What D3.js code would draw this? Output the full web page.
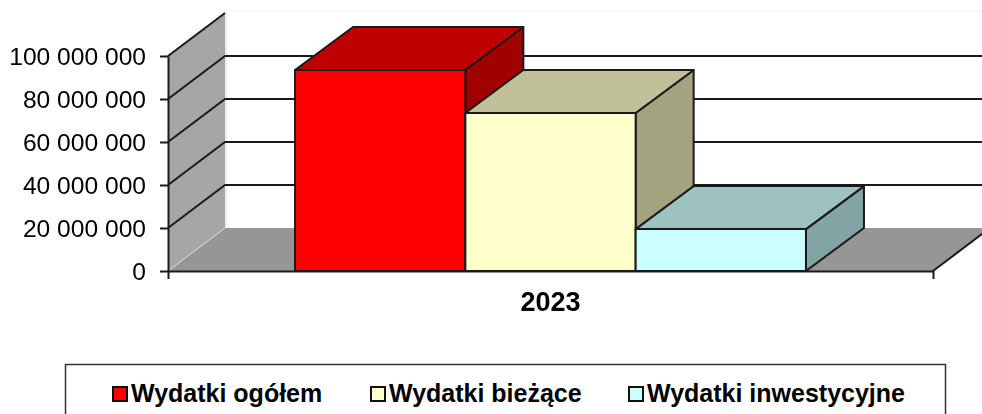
<!DOCTYPE html>
<html>
<head>
<meta charset="utf-8">
<script src="https://cdnjs.cloudflare.com/ajax/libs/d3/7.8.5/d3.min.js"></script>
<style>
  html, body { margin: 0; padding: 0; background: #fff; overflow: hidden; }
  svg { display: block; filter: blur(0.35px); }
  text { font-family: "Liberation Sans", Arial, sans-serif; fill: #000; }
</style>
</head>
<body>
<div id="chart"></div>
<script>
const categories = ["2023"];
const seriesNames = ["Wydatki ogółem", "Wydatki bieżące", "Wydatki inwestycyjne"];
const seriesValues = [93500000, 73500000, 19500000];
const seriesColors = ["#ff0000", "#ffffcc", "#ccffff"];
const topColors = ["#c00000", "#c0c09a", "#9dc2c0"];
const sideColors = ["#a00000", "#a3a380", "#82a4a4"];
const yTicks = [0, 20000000, 40000000, 60000000, 80000000, 100000000];

const width = 982;
const height = 414;
const depthX = 57;
const barDepthX = 58;
const depthY = 43;
const ink = "#1a1a1a";

const svg = d3.select("#chart").append("svg")
  .attr("width", width)
  .attr("height", height);

const xCat = d3.scaleBand().domain(categories).range([168, 933]);
const xBar = d3.scaleBand().domain(seriesNames).range(xCat.range()).paddingInner(0).paddingOuter(0.746);
const y = d3.scaleLinear().domain([0, 100000000]).range([271, 56]);

const poly = (pts) => d3.line()(pts) + "Z";
const [x0, x1] = xCat.range();

// back wall: faint edge along the top
svg.append("line").attr("x1", x0 + depthX).attr("x2", width)
  .attr("y1", y(100000000) - depthY - 2).attr("y2", y(100000000) - depthY - 2)
  .attr("stroke", "#f2f2f2").attr("stroke-width", 1);

// side wall
svg.append("path")
  .attr("d", poly([[x0, y(0)], [x0 + depthX, y(0) - depthY], [x0 + depthX, y(100000000) - depthY], [x0, y(100000000)]]))
  .attr("fill", "#a6a6a6");
svg.append("line")
  .attr("x1", x0 + depthX + 1).attr("x2", x0 + depthX + 1)
  .attr("y1", y(100000000) - depthY).attr("y2", y(0) - depthY)
  .attr("stroke", "#d9d9d9").attr("stroke-width", 1);

// floor
svg.append("path")
  .attr("d", poly([[x0, y(0)], [x1, y(0)], [x1 + depthX, y(0) - depthY], [x0 + depthX, y(0) - depthY]]))
  .attr("fill", "#969696");
svg.append("line")
  .attr("x1", x0).attr("y1", y(0)).attr("x2", x0 + depthX).attr("y2", y(0) - depthY)
  .attr("stroke", "#dcdcdc").attr("stroke-width", 1);
svg.append("line")
  .attr("x1", x1).attr("y1", y(0)).attr("x2", x1 + depthX).attr("y2", y(0) - depthY)
  .attr("stroke", ink).attr("stroke-width", 2);

// gridlines
const grid = svg.append("g").attr("fill", "none").attr("stroke", ink).attr("stroke-width", 2);
yTicks.filter((t) => t > 0).forEach((t) => {
  grid.append("path").attr("d", d3.line()([
    [x0, y(t)],
    [x0 + depthX, y(t) - depthY],
    [t < 100000000 ? x1 + depthX : x0 + depthX, y(t) - depthY],
  ]));
});

// bars
const bars = svg.append("g")
  .attr("stroke", ink).attr("stroke-width", 2).attr("stroke-linejoin", "round");
seriesNames.forEach((name, i) => {
  const left = xBar(name);
  const right = left + xBar.bandwidth();
  const top = y(seriesValues[i]);
  const base = y(0);
  bars.append("path").attr("fill", sideColors[i])
    .attr("d", poly([[right, base], [right + barDepthX, base - depthY], [right + barDepthX, top - depthY], [right, top]]));
  bars.append("path").attr("fill", topColors[i])
    .attr("d", poly([[left, top], [right, top], [right + barDepthX, top - depthY], [left + barDepthX, top - depthY]]));
  bars.append("path").attr("fill", seriesColors[i])
    .attr("d", poly([[left, base], [right, base], [right, top], [left, top]]));
});

// axes
const spaceFormat = d3.formatLocale({ thousands: " ", grouping: [3], decimal: ",", currency: ["", ""] }).format(",d");

const yAxis = svg.append("g")
  .attr("transform", `translate(${x0},0)`)
  .call(d3.axisLeft(y).tickValues(yTicks).tickFormat(spaceFormat).tickSizeInner(8).tickSizeOuter(0).tickPadding(14));
yAxis.selectAll("text").attr("font-size", 24.6).attr("font-family", null).attr("dy", "0.36em");
yAxis.selectAll("line").attr("stroke", ink).attr("stroke-width", 2);
yAxis.select(".domain").attr("stroke", ink).attr("stroke-width", 2);

const xAxis = svg.append("g")
  .attr("transform", `translate(0,${y(0)})`)
  .call(d3.axisBottom(xCat).tickSizeInner(0).tickSizeOuter(8).tickPadding(21));
xAxis.selectAll("text").attr("font-size", 27).attr("font-weight", "bold").attr("font-family", null);
xAxis.select(".domain").attr("stroke", ink).attr("stroke-width", 2);

// legend
const legend = svg.append("g");
legend.append("rect")
  .attr("x", 65.5).attr("y", 364.5).attr("width", 880).attr("height", 60)
  .attr("fill", "#fff").attr("stroke", "#333").attr("stroke-width", 1.5);

const legendX = [113, 371, 629];
seriesNames.forEach((name, i) => {
  legend.append("rect")
    .attr("x", legendX[i]).attr("y", 387).attr("width", 14).attr("height", 14)
    .attr("fill", seriesColors[i]).attr("stroke", "#111").attr("stroke-width", 2);
  legend.append("text")
    .attr("x", legendX[i] + 18).attr("y", 402)
    .attr("font-size", 25).attr("font-weight", "bold")
    .text(name);
});
</script>
</body>
</html>
